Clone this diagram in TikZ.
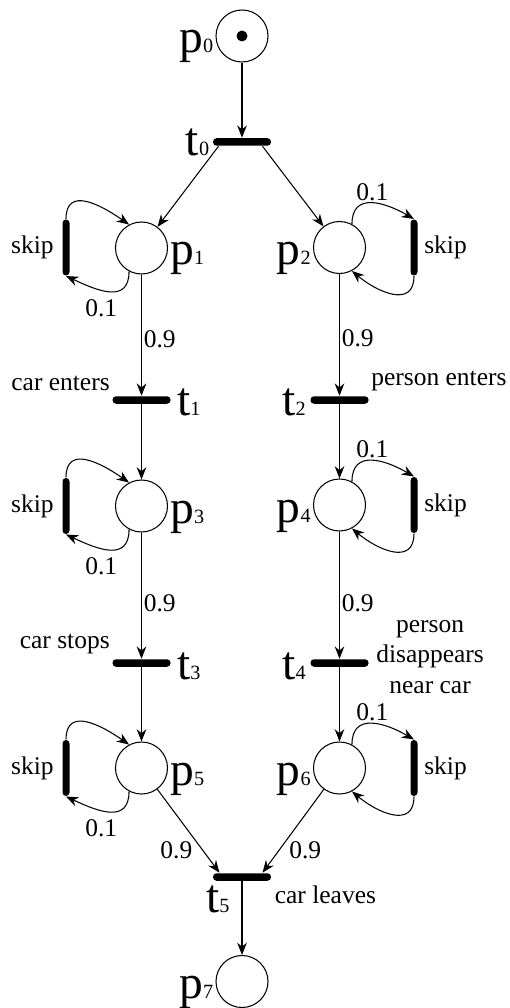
\documentclass[tikz,border=0pt]{standalone}
\usepackage{fontspec}
\setmainfont{Liberation Serif}
\usepackage{tikz}
\usetikzlibrary{arrows.meta, positioning}
\newcommand{\plab}[2]{{\fontsize{27}{30}\selectfont #1}{\fontsize{11.5}{12}\selectfont #2}}

\begin{document}
\begin{tikzpicture}[>={Stealth[length=7pt, width=5.5pt]}, line width=0.6pt,
    place/.style={circle, draw, minimum size=1.04cm, inner sep=0pt},
    trans/.style={rectangle, fill=black, minimum width=1.16cm, minimum height=0.15cm, inner sep=0pt, rounded corners=0.07cm},
    skipbar/.style={rectangle, fill=black, minimum width=0.14cm, minimum height=1.12cm, inner sep=0pt, rounded corners=0.07cm},
    txt/.style={font=\fontsize{14.5}{17.5}\selectfont, inner sep=1pt},
    big/.style={inner sep=1pt}]
    \useasboundingbox (0,0) rectangle (10.18,-20.16);
    % places
    \node[place] (p0) at (4.84,-0.72) {};
    \node[circle, fill, inner sep=0pt, minimum size=0.22cm] (tok) at (p0) {};
    \node[place] (p1) at (2.83,-4.96) {};
    \node[place] (p2) at (6.79,-4.95) {};
    \node[place] (p3) at (2.83,-10.12) {};
    \node[place] (p4) at (6.79,-10.1) {};
    \node[place] (p5) at (2.83,-15.36) {};
    \node[place] (p6) at (6.79,-15.36) {};
    \node[place] (p7) at (4.84,-19.63) {};
    % transitions
    \node[trans] (t0) at (4.84,-2.84) {};
    \node[trans] (t1) at (2.83,-8.0) {};
    \node[trans] (t2) at (6.79,-8.0) {};
    \node[trans] (t3) at (2.83,-13.26) {};
    \node[trans] (t4) at (6.79,-13.26) {};
    \node[trans] (t5) at (4.84,-17.54) {};
    \node[skipbar] (s1) at (1.32,-4.95) {};
    \node[skipbar] (s3) at (1.32,-10.12) {};
    \node[skipbar] (s5) at (1.32,-15.36) {};
    \node[skipbar] (s2) at (8.28,-4.95) {};
    \node[skipbar] (s4) at (8.28,-10.1) {};
    \node[skipbar] (s6) at (8.28,-15.36) {};
    % names
    \node[big, anchor=base east] (p0l) at ([yshift=-0.34cm]p0.west) {\plab{p}{0}};
    \node[big, anchor=base west] (p1l) at ([yshift=-0.34cm]p1.east) {\plab{p}{1}};
    \node[big, anchor=base east] (p2l) at ([yshift=-0.34cm]p2.west) {\plab{p}{2}};
    \node[big, anchor=base west] (p3l) at ([yshift=-0.34cm]p3.east) {\plab{p}{3}};
    \node[big, anchor=base east] (p4l) at ([yshift=-0.34cm]p4.west) {\plab{p}{4}};
    \node[big, anchor=base west] (p5l) at ([yshift=-0.34cm]p5.east) {\plab{p}{5}};
    \node[big, anchor=base east] (p6l) at ([yshift=-0.34cm]p6.west) {\plab{p}{6}};
    \node[big, anchor=base east] (p7l) at ([yshift=-0.34cm]p7.west) {\plab{p}{7}};
    \node[big, anchor=base east] (t0l) at ([xshift=-0.02cm, yshift=-0.28cm]t0.west) {\plab{t}{0}};
    \node[big, anchor=base west] (t1l) at ([xshift=0.08cm, yshift=-0.3cm]t1.east) {\plab{t}{1}};
    \node[big, anchor=base east] (t2l) at ([xshift=-0.04cm, yshift=-0.3cm]t2.west) {\plab{t}{2}};
    \node[big, anchor=base west] (t3l) at ([xshift=0.08cm, yshift=-0.32cm]t3.east) {\plab{t}{3}};
    \node[big, anchor=base east] (t4l) at ([xshift=-0.04cm, yshift=-0.32cm]t4.west) {\plab{t}{4}};
    \node[big, anchor=base west] (t5l) at ([xshift=-0.17cm, yshift=-0.7cm]t5.west) {\plab{t}{5}};
    % texts
    \node[txt, left=0.12cm of s1] (k1) {skip};
    \node[txt, left=0.12cm of s3] (k3) {skip};
    \node[txt, left=0.12cm of s5] (k5) {skip};
    \node[txt, right=0.08cm of s2] (k2) {skip};
    \node[txt, right=0.08cm of s4] (k4) {skip};
    \node[txt, right=0.08cm of s6] (k6) {skip};
    \node[txt, anchor=south east] (e1) at ([yshift=0.06cm]t1.north west) {car enters};
    \node[txt, anchor=south west] (e2) at ([yshift=0.06cm]t2.north east) {person enters};
    \node[txt, anchor=south east] (e3) at ([yshift=0.06cm]t3.north west) {car stops};
    \node[txt, anchor=west, align=center, yshift=0.12cm, right=0.1cm of t4] (e4) {person\\disappears\\near car};
    \node[txt, anchor=north west] (e5) at ([xshift=0.02cm, yshift=-0.04cm]t5.south east) {car leaves};
    % arcs
    \draw[->] (p0) -- (t0);
    \draw[->] ([xshift=0.12cm]t0.south west) -- (p1);
    \draw[->] ([xshift=-0.18cm]t0.south east) -- (p2);
    \draw[->] (p1) -- node[txt, right, pos=0.53] {0.9} (t1);
    \draw[->] (p2) -- node[txt, right, pos=0.53] {0.9} (t2);
    \draw[->] (t1) -- (p3);
    \draw[->] (t2) -- (p4);
    \draw[->] (p3) -- node[txt, right, pos=0.56] {0.9} (t3);
    \draw[->] (p4) -- node[txt, right, pos=0.56] {0.9} (t4);
    \draw[->] (t3) -- (p5);
    \draw[->] (t4) -- (p6);
    \draw[->] (p5) -- node[txt, below left, pos=0.6] {0.9} ([xshift=0.14cm]t5.north west);
    \draw[->] (p6) -- node[txt, below right, pos=0.6] {0.9} ([xshift=-0.18cm]t5.north east);
    \draw[->] (t5) -- (p7);
    % skip loops
    \draw[->] (s1.north) to[out=90, in=145, looseness=1.35] (p1.118);
    \draw[->] (p1.242) to[out=-90, in=-25, looseness=1.35] node[txt, below=4pt, pos=0.6] {0.1} (s1.south);
    \draw[->] (s3.north) to[out=90, in=145, looseness=1.35] (p3.118);
    \draw[->] (p3.242) to[out=-90, in=-25, looseness=1.35] node[txt, below=4pt, pos=0.6] {0.1} (s3.south);
    \draw[->] (s5.north) to[out=90, in=145, looseness=1.35] (p5.118);
    \draw[->] (p5.242) to[out=-90, in=-25, looseness=1.35] node[txt, below=4pt, pos=0.6] {0.1} (s5.south);
    \draw[->] (p2.62) to[out=90, in=150, looseness=1.35] node[txt, above] {0.1} (s2.north);
    \draw[->] (s2.south) to[out=-90, in=-40, looseness=1.35] (p2.298);
    \draw[->] (p4.62) to[out=90, in=150, looseness=1.35] node[txt, above] {0.1} (s4.north);
    \draw[->] (s4.south) to[out=-90, in=-40, looseness=1.35] (p4.298);
    \draw[->] (p6.62) to[out=90, in=150, looseness=1.35] node[txt, above] {0.1} (s6.north);
    \draw[->] (s6.south) to[out=-90, in=-40, looseness=1.35] (p6.298);
\end{tikzpicture}
\end{document}
